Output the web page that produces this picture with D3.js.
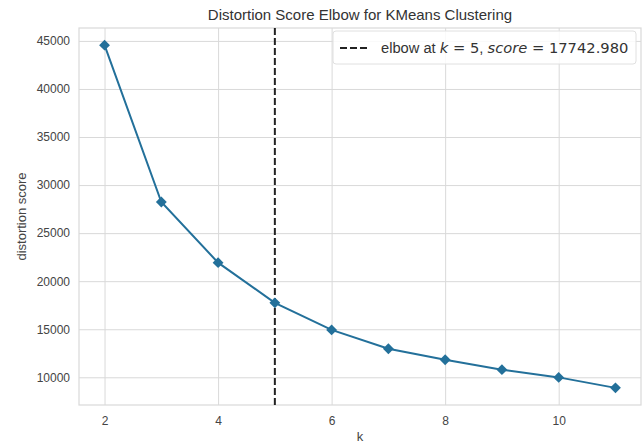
<!DOCTYPE html>
<html>
<head>
<meta charset="utf-8">
<script src="https://cdn.jsdelivr.net/npm/d3@7"></script>
<style>
  body { margin: 0; background: #fff; }
  svg { display: block; font-family: "Liberation Sans", Arial, sans-serif; }
</style>
</head>
<body>
<div id="chart"></div>
<script>
// k values and distortion scores
const kValues = [2, 3, 4, 5, 6, 7, 8, 9, 10, 11];
const scores = [44560, 28240, 21930, 17742.98, 14930, 12970, 11830, 10790, 9990, 8900];
const xTicks = [2, 4, 6, 8, 10];
const yTicks = [10000, 15000, 20000, 25000, 30000, 35000, 40000, 45000];
const elbowK = 5;
const elbowScore = 17742.98;

const W = 642, H = 444;
const margin = { top: 28, right: 1, bottom: 39, left: 79 };
const width = W - margin.left - margin.right;
const height = H - margin.top - margin.bottom;

const svg = d3.select('#chart')
  .append('svg')
  .attr('width', W)
  .attr('height', H);

const g = svg.append('g')
  .attr('transform', `translate(${margin.left},${margin.top})`);

// matplotlib-like 5% padding around the data
const xPad = (d3.max(kValues) - d3.min(kValues)) * 0.05;
const yPad = (d3.max(scores) - d3.min(scores)) * 0.05;

const x = d3.scaleLinear()
  .domain([d3.min(kValues) - xPad, d3.max(kValues) + xPad])
  .range([0, width]);

const y = d3.scaleLinear()
  .domain([d3.min(scores) - yPad, d3.max(scores) + yPad])
  .range([height, 0]);

const gridColor = '#d9d9d9';
const textColor = '#444';
const sans = '"Liberation Sans", Arial, sans-serif';
const mathFont = '"DejaVu Sans", sans-serif';

// Grid lines
g.append('g')
  .call(d3.axisBottom(x).tickValues(xTicks).tickSize(height).tickFormat(''))
  .call(a => a.select('.domain').remove())
  .selectAll('line').attr('stroke', gridColor).attr('stroke-width', 1);

g.append('g')
  .call(d3.axisLeft(y).tickValues(yTicks).tickSize(-width).tickFormat(''))
  .call(a => a.select('.domain').remove())
  .selectAll('line').attr('stroke', gridColor).attr('stroke-width', 1);

// Frame
g.append('rect')
  .attr('width', width)
  .attr('height', height)
  .attr('fill', 'none')
  .attr('stroke', gridColor)
  .attr('stroke-width', 1.2);

// Tick labels
const xAxis = g.append('g')
  .attr('transform', `translate(0,${height})`)
  .call(d3.axisBottom(x).tickValues(xTicks).tickSize(0).tickPadding(11));
xAxis.select('.domain').remove();
xAxis.selectAll('text').attr('fill', textColor).attr('font-size', 12).attr('font-family', sans);

const yAxis = g.append('g')
  .call(d3.axisLeft(y).tickValues(yTicks).tickSize(0).tickPadding(9).tickFormat(d3.format('d')));
yAxis.select('.domain').remove();
yAxis.selectAll('text').attr('fill', textColor).attr('font-size', 12).attr('font-family', sans);

// Elbow line
g.append('line')
  .attr('x1', x(elbowK)).attr('x2', x(elbowK))
  .attr('y1', 0).attr('y2', height)
  .attr('stroke', '#222')
  .attr('stroke-width', 2)
  .attr('stroke-dasharray', '7,3');

// Series
const lineColor = '#23709a';
const pts = kValues.map((k, i) => [k, scores[i]]);

g.append('path')
  .datum(pts)
  .attr('fill', 'none')
  .attr('stroke', lineColor)
  .attr('stroke-width', 2)
  .attr('d', d3.line().x(d => x(d[0])).y(d => y(d[1])));

g.selectAll('.pt')
  .data(pts)
  .join('path')
  .attr('class', 'pt')
  .attr('transform', d => `translate(${x(d[0])},${y(d[1])})`)
  .attr('d', d3.symbol(d3.symbolDiamond2, 75)())
  .attr('fill', lineColor);

// Title and axis labels
svg.append('text')
  .attr('x', margin.left + width / 2)
  .attr('y', 20)
  .attr('text-anchor', 'middle')
  .attr('font-size', 15)
  .attr('fill', '#333')
  .text('Distortion Score Elbow for KMeans Clustering');

svg.append('text')
  .attr('x', margin.left + width / 2)
  .attr('y', 441)
  .attr('text-anchor', 'middle')
  .attr('font-size', 13)
  .attr('fill', textColor)
  .text('k');

svg.append('text')
  .attr('transform', `translate(26,${margin.top + height / 2}) rotate(-90)`)
  .attr('text-anchor', 'middle')
  .attr('font-size', 13)
  .attr('fill', textColor)
  .text('distortion score');

// Legend
const legend = g.append('g').attr('transform', `translate(${width - 308},3)`);
legend.append('rect')
  .attr('width', 303)
  .attr('height', 33)
  .attr('rx', 3)
  .attr('fill', '#fff')
  .attr('fill-opacity', 0.85)
  .attr('stroke', '#e0e0e0');
legend.append('line')
  .attr('x1', 7).attr('x2', 37)
  .attr('y1', 17).attr('y2', 17)
  .attr('stroke', '#222')
  .attr('stroke-width', 2)
  .attr('stroke-dasharray', '7,3');

const lt = legend.append('text')
  .attr('x', 48)
  .attr('y', 22)
  .attr('font-size', 14.7)
  .attr('fill', '#333');
lt.append('tspan').text('elbow at ');
lt.append('tspan').attr('font-style', 'italic').attr('font-family', mathFont).text('k');
lt.append('tspan').attr('font-family', mathFont).text(` = ${elbowK}`);
lt.append('tspan').text(', ');
lt.append('tspan').attr('font-style', 'italic').attr('font-family', mathFont).text('score');
lt.append('tspan').attr('font-family', mathFont).text(` = ${elbowScore.toFixed(3)}`);
</script>
</body>
</html>
